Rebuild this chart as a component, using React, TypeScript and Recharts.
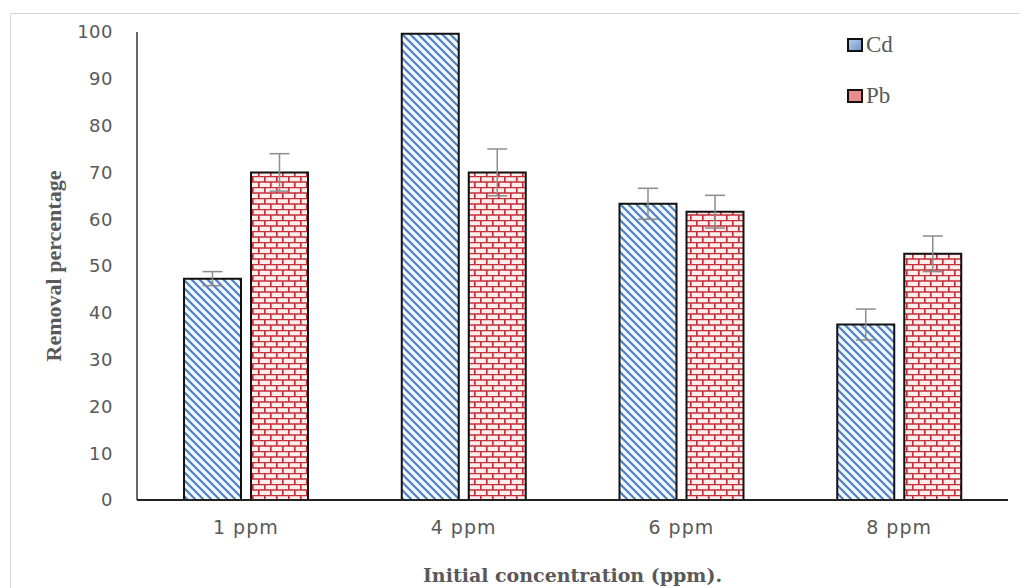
import React from 'react';
import { BarChart, Bar, XAxis, YAxis, ErrorBar, Label } from 'recharts';

const categories = ['1 ppm', '4 ppm', '6 ppm', '8 ppm'];
const cdValues = [47.3, 99.6, 63.3, 37.5];
const pbValues = [70.0, 70.0, 61.6, 52.6];
const cdErrors = [1.5, 0, 3.3, 3.3];
const pbErrors = [4.0, 5.0, 3.5, 3.8];
const yTicks = [0, 10, 20, 30, 40, 50, 60, 70, 80, 90, 100];
const seriesNames = ['Cd', 'Pb'];

const data = categories.map((c, i) => ({
  name: c,
  Cd: cdValues[i],
  Pb: pbValues[i],
  cdErr: cdErrors[i],
  pbErr: pbErrors[i],
}));

const GRAY = '#595959';
const SANS = '"DejaVu Sans", "Open Sans", sans-serif';

const LegendBox = () => (
  <div style={{ position: 'absolute', left: 847, top: 33, fontFamily: '"Liberation Serif", serif', fontSize: 23, color: GRAY }}>
    <div style={{ display: 'flex', alignItems: 'center', height: 24 }}>
      <span style={{ display: 'inline-block', width: 12, height: 10, border: '2px solid #111', background: 'linear-gradient(135deg,#b7cdea,#6f98cf)', marginRight: 3 }} />
      <span>{seriesNames[0]}</span>
    </div>
    <div style={{ display: 'flex', alignItems: 'center', height: 24, marginTop: 27 }}>
      <span style={{ display: 'inline-block', width: 12, height: 10, border: '2px solid #111', background: '#e98c8c', marginRight: 3 }} />
      <span>{seriesNames[1]}</span>
    </div>
  </div>
);

export default function App() {
  return (
    <div style={{ position: 'absolute', left: 0, top: 0, width: 1020, height: 588, overflow: 'hidden', background: '#fff' }}>
      <div style={{ position: 'absolute', left: 10, top: 13, width: 1030, height: 600, border: '1.5px solid #d6d6d6', boxSizing: 'border-box' }} />
      <div style={{ position: 'absolute', left: 0, top: 0 }}>
        <BarChart
          width={1020}
          height={588}
          data={data}
          margin={{ top: 32, right: 12, left: 0, bottom: 0 }}
          barGap={10}
          barSize={57}
        >
          <defs>
            <pattern id="stripes" patternUnits="userSpaceOnUse" width="8" height="8">
              <rect width="8" height="8" fill="#f2f7fd" />
              <path d="M-2,-2 L10,10 M-2,6 L2,10 M6,-2 L10,2" stroke="#4f80c0" strokeWidth="2.2" />
            </pattern>
            <pattern id="bricks" patternUnits="userSpaceOnUse" width="24" height="11">
              <rect width="24" height="11" fill="#fdeeee" />
              <path d="M0,0.5 L24,0.5 M0,6 L24,6 M0.8,0 L0.8,6 M12.8,0 L12.8,6 M6.8,6 L6.8,11 M18.8,6 L18.8,11" stroke="#c4303a" strokeWidth="1.7" />
            </pattern>
          </defs>
          <XAxis
            dataKey="name"
            height={88}
            tickLine={false}
            tickSize={0}
            tickMargin={21}
            axisLine={{ stroke: '#222', strokeWidth: 2 }}
            tick={{ fill: GRAY, fontSize: 19, fontFamily: SANS, letterSpacing: 1 }}
          >
            <Label
              value="Initial concentration (ppm)."
              position="insideBottom"
              offset={6}
              style={{ fill: GRAY, fontSize: 19, fontWeight: 'bold', fontFamily: '"DejaVu Serif", serif' }}
            />
          </XAxis>
          <YAxis
            width={137}
            domain={[0, 100]}
            ticks={yTicks}
            interval={0}
            tickLine={false}
            tickSize={0}
            tickMargin={24}
            axisLine={{ stroke: '#333', strokeWidth: 1.5 }}
            tick={{ fill: GRAY, fontSize: 18, fontFamily: SANS, letterSpacing: 0.5 }}
          >
            <Label
              value="Removal percentage"
              angle={-90}
              position="insideLeft"
              offset={53}
              style={{ textAnchor: 'middle', fill: GRAY, fontSize: 22, fontWeight: 'bold', fontFamily: '"Liberation Serif", serif' }}
            />
          </YAxis>
          <Bar dataKey="Cd" fill="url(#stripes)" stroke="#111" strokeWidth={2} isAnimationActive={false}>
            <ErrorBar dataKey="cdErr" width={10} stroke="#8c8c8c" strokeWidth={1.5} direction="y" />
          </Bar>
          <Bar dataKey="Pb" fill="url(#bricks)" stroke="#111" strokeWidth={2} isAnimationActive={false}>
            <ErrorBar dataKey="pbErr" width={10} stroke="#8c8c8c" strokeWidth={1.5} direction="y" />
          </Bar>
        </BarChart>
      </div>
      <LegendBox />
    </div>
  );
}
